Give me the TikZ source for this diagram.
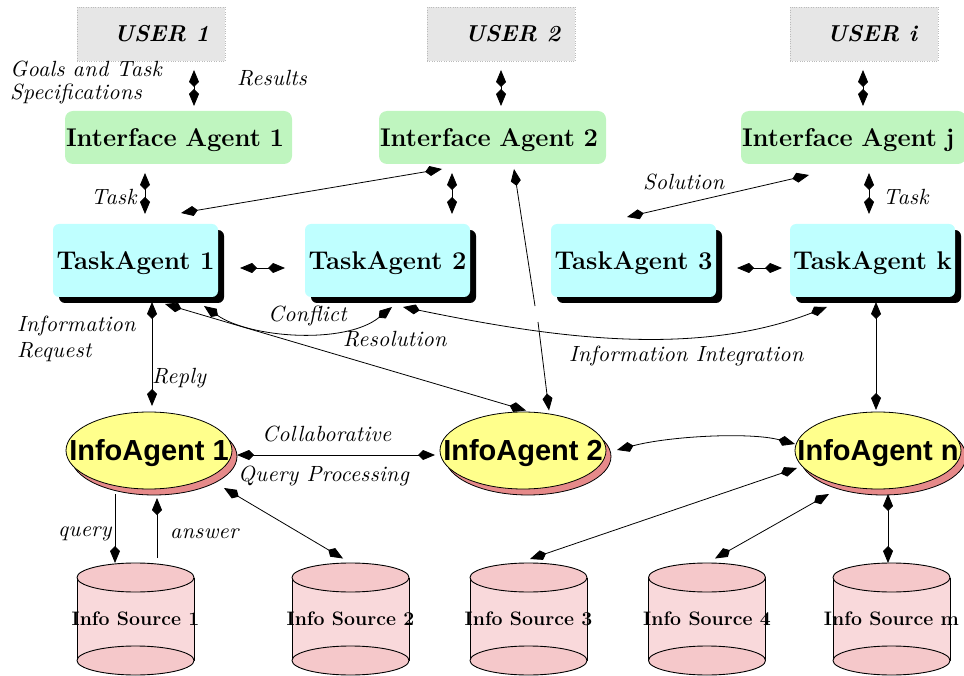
\documentclass[tikz,border=0pt]{standalone}
\usepackage{fontspec}
\usetikzlibrary{arrows.meta,calc,shadows,shapes.geometric}
\newfontfamily\infofont{Liberation Sans}
\newfontface\lblit{lmroman10-italic.otf}[LetterSpace=1.5]

\definecolor{ugray}{HTML}{E6E6E6}
\definecolor{uborder}{HTML}{BBBBBB}
\definecolor{igreen}{HTML}{BFF5BF}
\definecolor{tcyan}{HTML}{BFFFFF}
\definecolor{ayellow}{HTML}{FFFF8C}
\definecolor{asalmon}{HTML}{E68A8A}
\definecolor{pbody}{HTML}{F9D9DB}
\definecolor{pend}{HTML}{F5C8CA}

\newcommand\srccyl[4]{%
  \fill[pbody] (#2-58.5,#3-41.5) rectangle (#2+58.5,#3+41.5);
  \draw[line width=0.9pt] (#2-58.5,#3-41.5) -- (#2-58.5,#3+41.5) (#2+58.5,#3-41.5) -- (#2+58.5,#3+41.5);
  \draw[line width=0.9pt, fill=pend] (#2,#3+41.5) ellipse [x radius=58.5pt, y radius=14.5pt];
  \draw[line width=0.9pt, fill=pend] (#2,#3-41.5) ellipse [x radius=58.5pt, y radius=14.5pt];
  \node[srcbox] (#1) at (#2,#3) {#4};}

\begin{document}
\begin{tikzpicture}[x=1pt,y=-1pt,
  >={Kite[length=17pt,width=10pt,inset=5pt]},
  conn/.style={line width=0.8pt},
  userbox/.style={rectangle, fill=ugray, draw=uborder, dotted, minimum width=148pt, minimum height=54pt,
    font=\bfseries\itshape\fontsize{23}{26}\selectfont, text height=15.8pt, text depth=0pt, inner sep=0pt},
  ifacebox/.style={rectangle, rounded corners=8pt, fill=igreen, minimum height=53pt, inner xsep=1pt, inner ysep=0pt,
    align=left, font=\bfseries\fontsize{25.6}{29}\selectfont, text height=17.6pt, text depth=0pt},
  taskbox/.style={rectangle, rounded corners=6pt, fill=tcyan, minimum width=165pt, minimum height=73pt, inner sep=0pt,
    font=\bfseries\fontsize{25.6}{29}\selectfont, text height=17.6pt, text depth=0pt,
    drop shadow={shadow xshift=6pt, shadow yshift=-6pt, fill=black, opacity=1}},
  infoell/.style={ellipse, draw=black, line width=0.8pt, fill=ayellow, minimum width=166pt, minimum height=77pt, inner sep=0pt,
    font=\infofont\bfseries\fontsize{29}{32}\selectfont, text height=20.8pt, text depth=0pt,
    general shadow={fill=asalmon, draw=black, line width=0.8pt, shadow xshift=5pt, shadow yshift=-6pt}},
  srcbox/.style={rectangle, minimum width=117pt, minimum height=112pt, inner sep=0pt,
    font=\bfseries\fontsize{19.5}{22}\selectfont, text height=13.4pt, text depth=0pt},
  lbl/.style={font=\lblit\fontsize{22}{23}\selectfont, inner sep=0pt, anchor=base west, align=left}
]
\useasboundingbox (0,0) rectangle (964,676);

% users
\node[userbox] (u1) at (151,34) {\hspace*{21pt}USER 1};
\node[userbox] (u2) at (501,34) {\hspace*{23pt}USER 2};
\node[userbox] (ui) at (864,34) {\hspace*{16pt}USER \textit{i}};

% interface agents
\node[ifacebox, text width=225pt] (ia1) at (178.5,137.5) {Interface Agent 1};
\node[ifacebox, text width=225pt] (ia2) at (492.5,137.5) {Interface Agent 2};
\node[ifacebox, text width=223pt] (iaj) at (853.5,137.5) {Interface Agent j};

% task agents
\node[taskbox] (ta1) at (135.5,260.5) {TaskAgent 1};
\node[taskbox] (ta2) at (387.5,260.5) {TaskAgent 2};
\node[taskbox] (ta3) at (633.5,260.5) {TaskAgent 3};
\node[taskbox] (tak) at (872.5,260.5) {TaskAgent k};

% info agents
\node[infoell] (if1) at (149,450.5) {\makebox[0pt]{InfoAgent 1}};
\node[infoell] (if2) at (523,450.5) {\makebox[0pt]{InfoAgent 2}};
\node[infoell] (ifn) at (878,450.5) {\makebox[0pt]{InfoAgent n}};

% info sources
\srccyl{is1}{135.5}{619}{Info Source 1}
\srccyl{is2}{350.5}{619}{Info Source 2}
\srccyl{is3}{528.5}{619}{Info Source 3}
\srccyl{is4}{707}{619}{Info Source 4}
\srccyl{ism}{891.5}{619}{Info Source m}

% free ends of the broken line
\coordinate (gapA) at (535,306);
\coordinate (gapB) at (538,322);

% connectors
\draw[conn,<->] ($(u1)+(43,36)$) -- ($(ia1)+(15.5,-31.5)$);
\draw[conn,<->] ($(u2)+(0,36)$) -- ($(ia2)+(8.5,-31.5)$);
\draw[conn,<->] ($(ui)+(-1,36)$) -- ($(iaj)+(9.5,-31.5)$);
\draw[conn,<->] ($(ia1)+(-33.5,35.5)$) -- ($(ta1)+(9.5,-46.5)$);
\draw[conn,<->] ($(ia2)+(-50.5,31.5)$) -- ($(ta1)+(45.5,-47.5)$);
\draw[conn,<->] ($(ia2)+(-40.5,35.5)$) -- ($(ta2)+(64.5,-46.5)$);
\draw[conn,->] (gapA) -- ($(ia2)+(21.5,31.5)$);
\draw[conn,->] (gapB) -- ($(if2)+(26,-40)$);
\draw[conn,<->] ($(ta3)+(-6.5,-43.5)$) -- ($(iaj)+(-44.5,37.5)$);
\draw[conn,<->] ($(iaj)+(15.5,35.5)$) -- ($(tak)+(-3.5,-46.5)$);
\draw[conn,<->] ($(ta1)+(104.5,7.5)$) -- ($(ta2)+(-102.5,7.5)$);
\draw[conn,<->] ($(ta3)+(103.5,7.5)$) -- ($(tak)+(-90.5,7.5)$);
\draw[conn,<->] ($(ta1)+(16.5,41.5)$) -- ($(if1)+(3,-44.5)$);
\draw[conn,<->] ($(ta1)+(68.5,45.5)$) .. controls (250,338) and (345,345) .. ($(ta2)+(4.5,46.5)$);
\draw[conn,<->] ($(ta1)+(29.5,43.5)$) -- ($(if2)+(3,-40)$);
\draw[conn,<->] ($(ta2)+(15.5,46.5)$) .. controls (540,335) and (690,360) .. ($(tak)+(-45.5,46.5)$);
\draw[conn,<->] ($(tak)+(3.5,41.5)$) -- ($(ifn)+(-2,-40.5)$);
\draw[conn,<->] ($(if1)+(88,4.5)$) -- ($(if2)+(-88,4.5)$);
\draw[conn,<->] ($(if2)+(94,-0.5)$) .. controls (670,436) and (750,432) .. ($(ifn)+(-83,-6.5)$);
\draw[conn,->] ($(if1)+(-34,43.5)$) -- ($(is1)+(-20.5,-56)$);
\draw[conn,->] ($(is1)+(21.5,-61)$) -- ($(if1)+(8,47.5)$);
\draw[conn,<->] ($(if1)+(75,37.5)$) -- ($(is2)+(-7.5,-60.5)$);
\draw[conn,<->] ($(ifn)+(-81,17.5)$) -- ($(is3)+(1.5,-60)$);
\draw[conn,<->] ($(ifn)+(-49,43.5)$) -- ($(is4)+(8,-60.5)$);
\draw[conn,<->] ($(ifn)+(10,43.5)$) -- ($(ism)+(-3.5,-56)$);

% labels
\node[lbl] (lgoals) at (10,100) {Goals and Task\\Specifications};
\node[lbl] (lres) at (237,86) {Results};
\node[lbl] (ltask1) at (91,205) {Task};
\node[lbl] (lsol) at (643,190) {Solution};
\node[lbl] (ltaskk) at (883,205) {Task};
\node[lbl] (linfo) at (17,358) {Information\\[3pt]Request};
\node[lbl] (lreply) at (152,383) {Reply};
\node[lbl] (lconf) at (268,322) {Conflict};
\node[lbl] (lresol) at (343,347) {Resolution};
\node[lbl] (linteg) at (569,362) {Information Integration};
\node[lbl] (lcoll) at (262,441) {Collaborative};
\node[lbl] (lqp) at (238,481) {Query Processing};
\node[lbl] (lquery) at (58,536) {query};
\node[lbl] (lans) at (170,538) {answer};
\end{tikzpicture}
\end{document}
